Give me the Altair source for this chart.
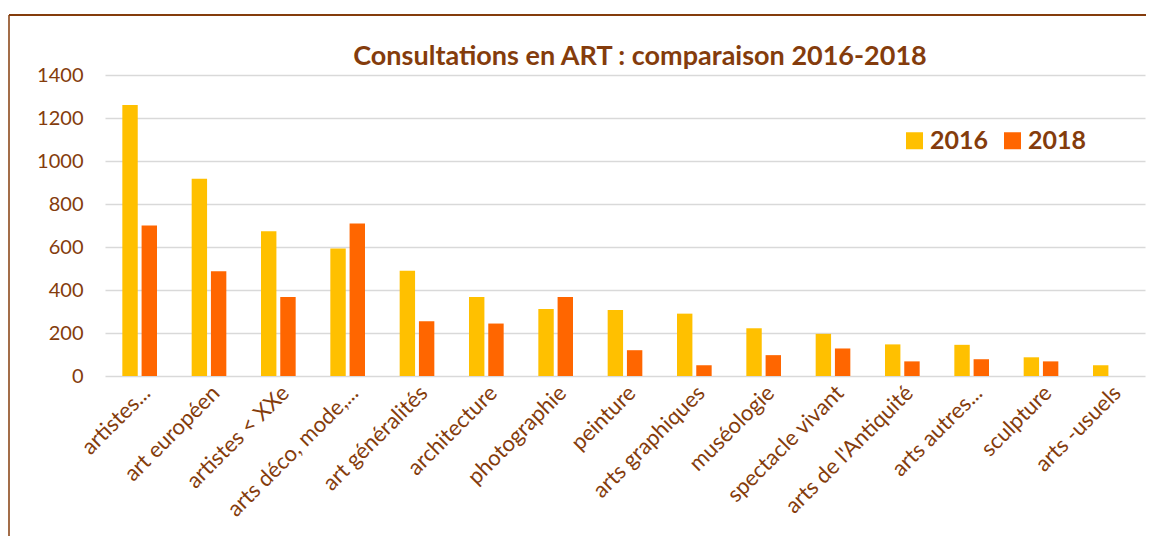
import altair as alt
import pandas as pd

categories = ["artistes...", "art européen", "artistes < XXe", "arts déco, mode,...",
              "art généralités", "architecture", "photographie", "peinture",
              "arts graphiques", "muséologie", "spectacle vivant", "arts de l'Antiquité",
              "arts autres...", "sculpture", "arts -usuels"]
v2016 = [1260, 918, 673, 593, 490, 368, 312, 307, 290, 222, 196, 147, 145, 87, 50]
v2018 = [700, 487, 368, 709, 255, 244, 367, 120, 50, 97, 128, 68, 78, 68, 0]
years = ["2016", "2018"]

rows = []
for c, a, b in zip(categories, v2016, v2018):
    rows.append({"cat": c, "year": "2016", "value": a})
    rows.append({"cat": c, "year": "2018", "value": b})
df = pd.DataFrame(rows)

BROWN = "#843C0C"
FONT = "Lato"

bars = alt.Chart(df).mark_bar().encode(
    x=alt.X("cat:N", sort=categories, title=None,
            scale=alt.Scale(paddingInner=0.5, paddingOuter=0.25),
            axis=alt.Axis(labelAngle=-45, labelFontSize=22, labelColor=BROWN,
                          labelFont=FONT, domain=False, ticks=False, labelPadding=6)),
    xOffset=alt.XOffset("year:N", scale=alt.Scale(paddingInner=0.2, paddingOuter=0)),
    y=alt.Y("value:Q", title=None,
            scale=alt.Scale(domain=[0, 1400]),
            axis=alt.Axis(values=[0, 200, 400, 600, 800, 1000, 1200, 1400], format="d",
                          labelFontSize=20, labelColor=BROWN, labelFont=FONT,
                          domain=False, ticks=False, labelPadding=22,
                          gridColor="#D9D9D9", gridWidth=1.5)),
    color=alt.Color("year:N", title=None,
                    scale=alt.Scale(domain=years, range=["#FFC000", "#FF6600"]),
                    legend=alt.Legend(orient="none", legendX=797, legendY=53,
                                      direction="horizontal", symbolType="square",
                                      symbolSize=289, symbolStrokeWidth=0,
                                      labelFontSize=25, labelFontWeight="bold",
                                      labelColor=BROWN, labelFont=FONT,
                                      labelOffset=3, columnPadding=11, padding=0)),
)

frame = alt.Chart(alt.Data(values=[{}]))
top_line = frame.mark_rule(color=BROWN, strokeWidth=2).encode(
    x=alt.value(-96), x2=alt.value(1100), y=alt.value(-60))
left_line = frame.mark_rule(color=BROWN, strokeWidth=1.5).encode(
    x=alt.value(-96), y=alt.value(-60), y2=alt.value(500))

chart = alt.layer(bars, top_line, left_line).properties(
    width=1040, height=301,
    title=alt.TitleParams("Consultations en ART : comparaison 2016-2018",
                          color=BROWN, font=FONT, fontSize=27, fontWeight="bold",
                          anchor="middle", dx=15, dy=61, offset=4),
    autosize=alt.AutoSizeParams(type="none"),
    padding={"left": 97, "top": 67, "right": 1, "bottom": 160},
).configure_view(stroke=None)

chart.save("out.html", embed_options={"renderer": "svg", "actions": False})
